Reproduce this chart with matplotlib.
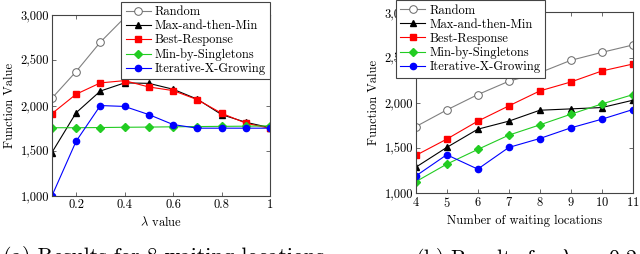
import matplotlib
matplotlib.use("Agg")
import matplotlib.pyplot as plt
from matplotlib.ticker import FuncFormatter

plt.rcParams["font.family"] = ["cmr10", "DejaVu Serif"]
plt.rcParams["mathtext.fontset"] = "cm"
plt.rcParams["axes.formatter.use_mathtext"] = True

# (a) 8 waiting locations, varying lambda
lam = [0.1, 0.2, 0.3, 0.4, 0.5, 0.6, 0.7, 0.8, 0.9, 1.0]
a_random = [2080, 2375, 2700, 2970, 3250, 3500, 3750, 4000, 4250, 4500]
a_maxmin = [1480, 1920, 2160, 2250, 2245, 2180, 2070, 1900, 1815, 1755]
a_best = [1910, 2125, 2250, 2275, 2205, 2165, 2065, 1915, 1805, 1748]
a_single = [1755, 1755, 1757, 1760, 1762, 1765, 1768, 1770, 1772, 1775]
a_iter = [1000, 1605, 2000, 1990, 1900, 1790, 1750, 1750, 1750, 1750]

# (b) lambda = 0.2, varying number of waiting locations
locs = [4, 5, 6, 7, 8, 9, 10, 11]
b_random = [1735, 1920, 2090, 2238, 2333, 2470, 2558, 2640]
b_maxmin = [1285, 1505, 1707, 1796, 1917, 1932, 1947, 2028]
b_best = [1416, 1597, 1796, 1965, 2131, 2230, 2352, 2429]
b_single = [1125, 1320, 1483, 1641, 1755, 1873, 1987, 2090]
b_iter = [1188, 1424, 1265, 1505, 1604, 1722, 1818, 1925]

labels = ["Random", "Max-and-then-Min", "Best-Response",
          "Min-by-Singletons", "Iterative-X-Growing"]
styles = [
    dict(color="#808080", marker="o", mfc="white", mec="#666666", ms=5.5, mew=0.7),
    dict(color="black", marker="^", ms=5),
    dict(color="#ff0000", marker="s", ms=4.5),
    dict(color="#22cc22", marker="D", ms=4),
    dict(color="#0000ff", marker="o", ms=4.5),
]

fmt = FuncFormatter(lambda v, p: f"{int(v):,}")


def style_axes(ax):
    ax.tick_params(direction="in", top=True, right=True, length=3,
                   width=0.6, labelsize=9, pad=2, color="#555555")
    for s in ax.spines.values():
        s.set_linewidth(0.8)
        s.set_color("#444444")
    ax.yaxis.set_major_formatter(fmt)
    ax.set_ylim(1000, 3000)
    ax.set_yticks([1000, 1500, 2000, 2500, 3000])
    ax.set_ylabel("Function Value", fontsize=9, labelpad=3)


def add_legend(ax, loc, anchor):
    leg = ax.legend(loc=loc, bbox_to_anchor=anchor, fontsize=9,
                    fancybox=False, framealpha=1, edgecolor="#444444",
                    borderaxespad=0, handlelength=2.0, labelspacing=0.15,
                    handletextpad=0.3, borderpad=0.35)
    leg.get_frame().set_linewidth(0.8)


fig = plt.figure(figsize=(6.4, 2.54), dpi=100)

ax1 = fig.add_axes([0.081, 0.228, 0.341, 0.713])
for ys, lab, st in zip([a_random, a_maxmin, a_best, a_single, a_iter], labels, styles):
    ax1.plot(lam, ys, label=lab, lw=0.8, **st)
ax1.set_xlim(0.1, 1.0)
ax1.set_xticks([0.2, 0.4, 0.6, 0.8, 1.0])
ax1.set_xticklabels(["0.2", "0.4", "0.6", "0.8", "1"])
ax1.set_xlabel(r"$\lambda$ value", fontsize=9, labelpad=3)
style_axes(ax1)
add_legend(ax1, "upper right", (1.0, 1.072))

ax2 = fig.add_axes([0.6495, 0.240, 0.3395, 0.711])
for ys, lab, st in zip([b_random, b_maxmin, b_best, b_single, b_iter], labels, styles):
    ax2.plot(locs, ys, label=lab, lw=0.8, **st)
ax2.set_xlim(4, 11)
ax2.set_xticks(locs)
ax2.set_xlabel("Number of waiting locations", fontsize=9, labelpad=3)
style_axes(ax2)
add_legend(ax2, "upper left", (-0.09, 1.068))

fig.text(0.255, 0.030, "(a) Results for 8 waiting locations", fontsize=15.5,
         ha="center", va="top")
fig.text(0.822, 0.030, r"(b) Results for $\lambda\ =\ 0.2$", fontsize=15.5,
         ha="center", va="top")

fig.savefig("out.png", dpi=100)
